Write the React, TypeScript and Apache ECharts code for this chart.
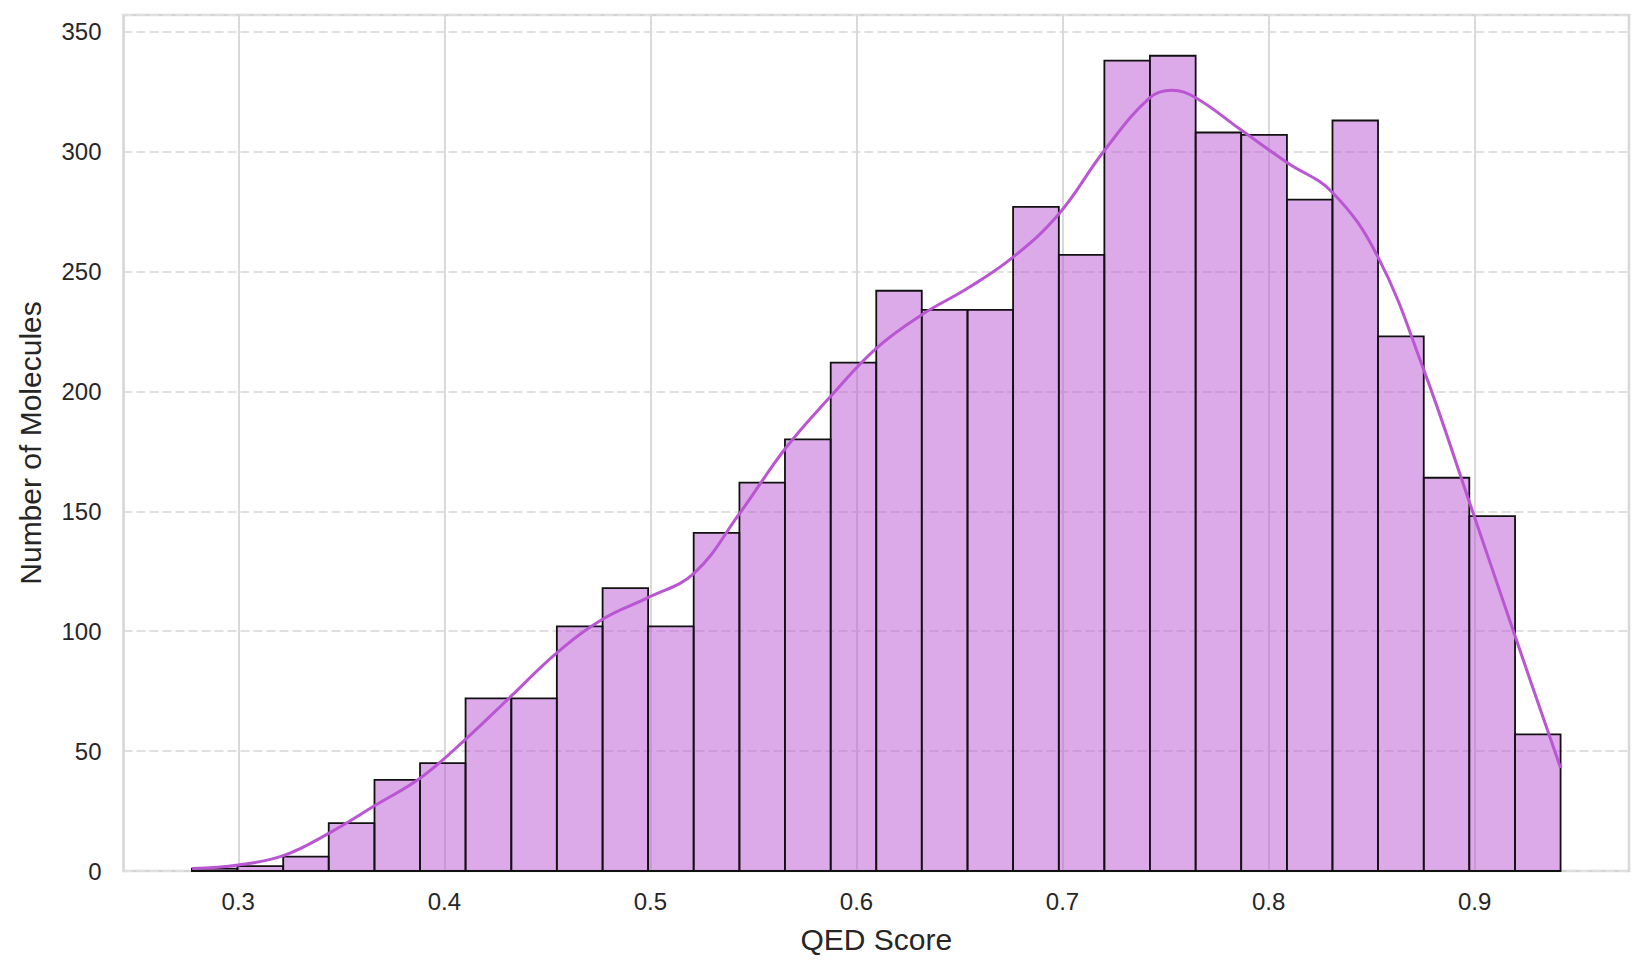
import React, { useEffect, useRef } from "react";
import * as echarts from "echarts";

// Histogram bin edges (QED score)
const binEdges = [
  0.2775, 0.2996, 0.3218, 0.3439, 0.3661, 0.3882, 0.4103, 0.4325, 0.4546, 0.4768,
  0.4989, 0.521, 0.5432, 0.5653, 0.5875, 0.6096, 0.6317, 0.6539, 0.676, 0.6982,
  0.7203, 0.7424, 0.7646, 0.7867, 0.8089, 0.831, 0.8531, 0.8753, 0.8974, 0.9196,
  0.9417,
];

// Counts per bin
const counts = [
  1, 2, 6, 20, 38, 45, 72, 72, 102, 118, 102, 141, 162, 180, 212, 242, 234, 234,
  277, 257, 338, 340, 308, 307, 280, 313, 223, 164, 148, 57,
];

// KDE curve (scaled to counts)
const kdeX = [
  0.2776, 0.3, 0.3222, 0.3445, 0.3667, 0.3887, 0.4104, 0.4325, 0.4546, 0.4768,
  0.4988, 0.521, 0.5432, 0.5653, 0.5875, 0.6096, 0.6317, 0.6539, 0.676, 0.6982,
  0.7203, 0.7424, 0.753, 0.7646, 0.7867, 0.8089, 0.831, 0.8531, 0.8753, 0.8974,
  0.9196, 0.9417,
];
const kdeY = [
  1, 2.5, 6.5, 16, 27.5, 39, 55, 73, 91, 105,
  114, 124, 149, 176, 198, 218, 232, 243, 256, 274,
  300.5, 322.5, 325.6, 322.5, 309, 295.5, 283, 256, 209, 154,
  98, 43,
];

const xMin = 0.2443;
const xMax = 0.9749;
const yMax = 357;

const FONT = '"Liberation Sans", Arial, Helvetica, sans-serif';
const TEXT = "#262626";

export default function App() {
  const ref = useRef<HTMLDivElement>(null);

  useEffect(() => {
    if (!ref.current) return;
    const chart = echarts.init(ref.current, null, { renderer: "svg" });
    const barData = counts.map((c, i) => [binEdges[i], binEdges[i + 1], c]);
    const kdeData = kdeX.map((x, i) => [x, kdeY[i]]);

    chart.setOption({
      animation: false,
      backgroundColor: "#ffffff",
      grid: {
        left: 123.5,
        right: 13,
        top: 15,
        bottom: 102,
        show: true,
        borderColor: "#d4d4d4",
        borderWidth: 2.5,
        backgroundColor: "transparent",
      },
      xAxis: {
        type: "value",
        min: xMin,
        max: xMax,
        splitNumber: 7,
        axisLine: { show: false },
        axisTick: { show: false },
        axisLabel: {
          color: TEXT,
          fontSize: 24,
          fontFamily: FONT,
          margin: 18,
          formatter: (v: number) =>
            Math.abs(v * 10 - Math.round(v * 10)) < 1e-6 ? v.toFixed(1) : "",
        },
        splitLine: { show: true, lineStyle: { color: "#d9d9d9", width: 2 } },
        name: "QED Score",
        nameLocation: "middle",
        nameGap: 53,
        nameTextStyle: { color: TEXT, fontSize: 30, fontFamily: FONT },
      },
      yAxis: {
        type: "value",
        min: 0,
        max: yMax,
        interval: 50,
        axisLine: { show: false },
        axisTick: { show: false },
        axisLabel: {
          color: TEXT,
          fontSize: 24,
          fontFamily: FONT,
          margin: 22,
          formatter: (v: number) => (v % 50 === 0 ? String(v) : ""),
        },
        splitLine: {
          show: true,
          lineStyle: { color: "#e0e0e0", width: 2, type: [9, 4] },
        },
        name: "Number of Molecules",
        nameLocation: "middle",
        nameGap: 78,
        nameTextStyle: { color: TEXT, fontSize: 30, fontFamily: FONT },
      },
      series: [
        {
          type: "custom",
          data: barData,
          encode: { x: [0, 1], y: 2 },
          z: 2,
          renderItem: (params: any, api: any) => {
            const x0 = api.value(0);
            const x1 = api.value(1);
            const c = api.value(2);
            const p0 = api.coord([x0, c]);
            const p1 = api.coord([x1, 0]);
            return {
              type: "rect",
              shape: {
                x: p0[0],
                y: p0[1],
                width: p1[0] - p0[0],
                height: p1[1] - p0[1],
              },
              style: {
                fill: "rgba(186,85,211,0.5)",
                stroke: "#111111",
                lineWidth: 1.8,
              },
            };
          },
        },
        {
          type: "line",
          data: kdeData,
          smooth: 0.4,
          showSymbol: false,
          symbol: "none",
          z: 3,
          lineStyle: { color: "#BA55D3", width: 3 },
        },
      ],
    });

    return () => {
      chart.dispose();
    };
  }, []);

  return (
    <div
      ref={ref}
      style={{
        position: "absolute",
        left: 0,
        top: 0,
        width: "1642px",
        height: "973px",
        background: "#fff",
      }}
    />
  );
}
